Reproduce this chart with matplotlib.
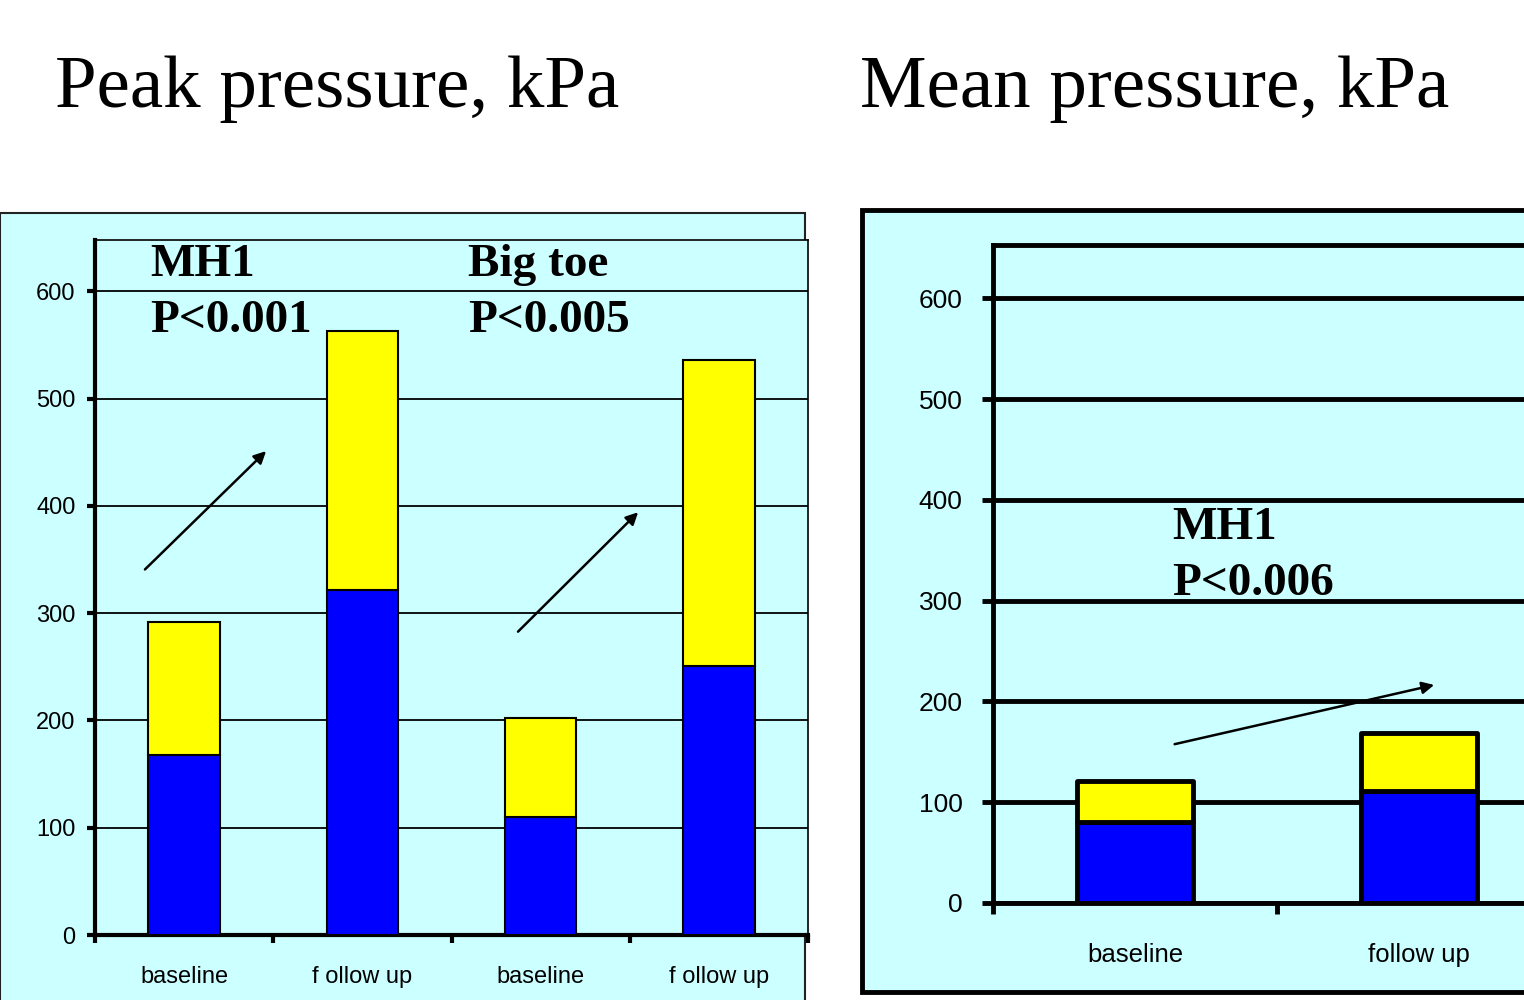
import matplotlib
matplotlib.use("Agg")
import matplotlib.pyplot as plt
from matplotlib.patches import Rectangle

# peak pressure (kPa): MH1 baseline / follow up, big toe baseline / follow up
peak_labels = ["baseline", "f ollow up", "baseline", "f ollow up"]
peak_blue = [168, 322, 110, 251]
peak_total = [292, 563, 202, 536]

# mean pressure (kPa), MH1
mean_labels = ["baseline", "follow up"]
mean_blue = [80, 111]
mean_total = [121, 169]

y_ticks = [0, 100, 200, 300, 400, 500, 600]

BG = "#CCFFFF"
BLUE = "#0000FF"
YELLOW = "#FFFF00"
SERIF = "Liberation Serif"
SANS = "Liberation Sans"

fig = plt.figure(figsize=(15.24, 10), dpi=100)
fig.patch.set_facecolor("white")

# panel frames, kept under the axes
fig.patches.append(Rectangle((0.0, -0.05), 805 / 1524, 0.837, transform=fig.transFigure,
                             facecolor=BG, edgecolor="#222222", linewidth=1.5, zorder=-5))
fig.patches.append(Rectangle((862 / 1524, 0.008), 0.5, 0.782, transform=fig.transFigure,
                             facecolor=BG, edgecolor="black", linewidth=3.5, zorder=-5))

fig.text(55 / 1524, 1 - 107 / 1000, "Peak pressure, kPa", fontsize=54, family=SERIF,
         ha="left", va="baseline")
fig.text(860 / 1524, 1 - 107 / 1000, "Mean pressure, kPa", fontsize=54, family=SERIF,
         ha="left", va="baseline")


def style_axes(ax, spine_lw, frame_lw, grid_lw, tick_len, ypad, xpad, ysize, xsize):
    ax.set_facecolor(BG)
    ax.set_yticks(y_ticks)
    ax.set_yticklabels([str(t) for t in y_ticks], fontsize=ysize, family=SANS)
    ax.tick_params(axis="y", direction="out", length=tick_len, width=spine_lw, pad=ypad)
    ax.tick_params(axis="x", which="major", length=0, pad=xpad, labelsize=xsize)
    ax.tick_params(axis="x", which="minor", direction="out", length=tick_len, width=spine_lw)
    for lab in ax.get_xticklabels():
        lab.set_family(SANS)
    for s in ["left", "bottom"]:
        ax.spines[s].set_linewidth(spine_lw)
    for s in ["top", "right"]:
        ax.spines[s].set_linewidth(frame_lw)
    ax.grid(True, axis="y", color="black", linewidth=grid_lw)
    ax.set_axisbelow(True)


# left: peak pressure
ax1 = fig.add_axes([95 / 1524, 0.065, 713 / 1524, 0.695])
x1 = list(range(len(peak_labels)))
peak_yellow = [t - b for t, b in zip(peak_total, peak_blue)]
ax1.bar(x1, peak_blue, width=0.4, color=BLUE, edgecolor="black", linewidth=1.5, zorder=3)
ax1.bar(x1, peak_yellow, width=0.4, bottom=peak_blue, color=YELLOW, edgecolor="black",
        linewidth=1.5, zorder=3)
ax1.set_xlim(-0.5, len(peak_labels) - 0.5)
ax1.set_ylim(0, 648)
ax1.set_xticks(x1)
ax1.set_xticklabels(peak_labels)
ax1.set_xticks([i - 0.5 for i in range(len(peak_labels) + 1)], minor=True)
style_axes(ax1, spine_lw=3, frame_lw=1.2, grid_lw=1.3, tick_len=6, ypad=8, xpad=22,
           ysize=17, xsize=17)

note_kw = dict(fontsize=34, family=SERIF, fontweight="bold", ha="left", va="baseline",
               linespacing=1.43, zorder=4)
ax1.text(-0.19, 562, "MH1\nP<0.001", **note_kw)
ax1.text(1.593, 562, "Big toe\nP<0.005", **note_kw)
arrow_kw = dict(arrowstyle="-|>", color="black", lw=1.8, mutation_scale=18)
ax1.annotate("", xy=(0.471, 453), xytext=(-0.231, 339), arrowprops=arrow_kw, zorder=4)
ax1.annotate("", xy=(2.558, 396), xytext=(1.862, 281), arrowprops=arrow_kw, zorder=4)

# right: mean pressure (axes run past the figure edge)
ax2 = fig.add_axes([993 / 1524, 0.097, 568 / 1524, 0.658])
x2 = list(range(len(mean_labels)))
mean_yellow = [t - b for t, b in zip(mean_total, mean_blue)]
ax2.bar(x2, mean_blue, width=0.405, color=BLUE, edgecolor="black", linewidth=3.5,
        joinstyle="round", zorder=3)
ax2.bar(x2, mean_yellow, width=0.405, bottom=mean_blue, color=YELLOW, edgecolor="black",
        linewidth=3.5, joinstyle="round", zorder=3)
ax2.set_xlim(-0.5, len(mean_labels) - 0.5)
ax2.set_ylim(0, 653)
ax2.set_xticks(x2)
ax2.set_xticklabels(mean_labels)
ax2.set_xticks([i - 0.5 for i in range(len(mean_labels) + 1)], minor=True)
style_axes(ax2, spine_lw=3.5, frame_lw=3.5, grid_lw=3.5, tick_len=8, ypad=14, xpad=29,
           ysize=19, xsize=18.5)

ax2.text(0.13, 306, "MH1\nP<0.006", **note_kw)
ax2.annotate("", xy=(1.063, 217), xytext=(0.13, 157),
             arrowprops=dict(arrowstyle="-|>", color="black", lw=1.8, mutation_scale=18),
             zorder=4)

fig.savefig("out.png", dpi=100, facecolor="white")
plt.close(fig)
